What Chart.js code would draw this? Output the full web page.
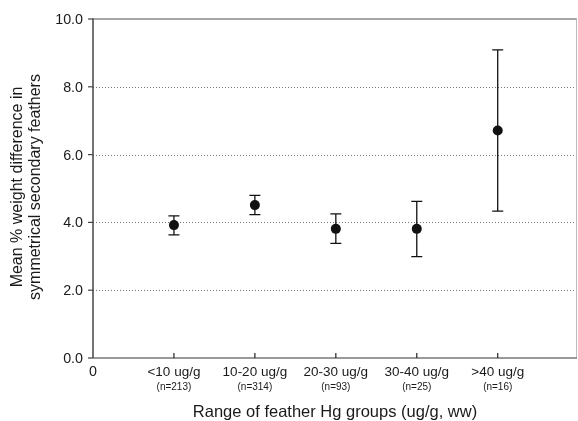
<!DOCTYPE html>
<html><head><meta charset="utf-8">
<script src="https://cdn.jsdelivr.net/npm/chart.js@4"></script>
<style>html,body{margin:0;padding:0;background:#fff}#wrap{width:578px;height:421px}</style>
</head><body><div id="wrap"><canvas id="c" width="578" height="421"></canvas></div>
<script>
const categories = ["<10 ug/g", "10-20 ug/g", "20-30 ug/g", "30-40 ug/g", ">40 ug/g"];
const sampleSizes = ["(n=213)", "(n=314)", "(n=93)", "(n=25)", "(n=16)"];
const groupPositions = [1, 2, 3, 4, 5];
const means = [3.92, 4.51, 3.81, 3.81, 6.71];
const lowerBounds = [3.63, 4.23, 3.38, 2.99, 4.33];
const upperBounds = [4.19, 4.80, 4.25, 4.62, 9.09];
const yTickValues = [0, 2, 4, 6, 8, 10];
const yGridValues = [2, 4, 6, 8];
const xZeroLabel = "0";
const yTitle = ["Mean % weight difference in", "symmetrical secondary feathers"];
const xTitle = "Range of feather Hg groups (ug/g, ww)";

const FONT = "'Liberation Sans', Arial, Helvetica, sans-serif";
const FRAME_RIGHT = 577;

const drawPlugin = {
  id: 'custom',
  beforeDatasetsDraw(chart) {
    const ctx = chart.ctx;
    const xs = chart.scales.x, ys = chart.scales.y;
    const a = chart.chartArea;
    const R = FRAME_RIGHT;
    ctx.save();
    // dotted grid
    ctx.strokeStyle = '#777';
    ctx.lineWidth = 1;
    ctx.setLineDash([1, 2]);
    yGridValues.forEach(v => {
      const y = Math.round(ys.getPixelForValue(v)) + 0.5;
      ctx.beginPath(); ctx.moveTo(a.left, y); ctx.lineTo(R, y); ctx.stroke();
    });
    ctx.setLineDash([]);
    // frame
    ctx.lineWidth = 1.5;
    ctx.strokeStyle = '#888';
    ctx.beginPath(); ctx.moveTo(a.left, a.top); ctx.lineTo(R, a.top); ctx.stroke();
    ctx.strokeStyle = '#bbb'; ctx.lineWidth = 1;
    ctx.beginPath(); ctx.moveTo(R - 0.5, a.top); ctx.lineTo(R - 0.5, a.bottom); ctx.stroke();
    ctx.strokeStyle = '#777'; ctx.lineWidth = 1.5;
    ctx.beginPath(); ctx.moveTo(a.left, a.bottom); ctx.lineTo(R, a.bottom); ctx.stroke();
    ctx.strokeStyle = '#444';
    ctx.beginPath(); ctx.moveTo(a.left, a.top - 0.5); ctx.lineTo(a.left, a.bottom); ctx.stroke();
    // y ticks
    ctx.lineWidth = 1.2;
    yTickValues.forEach(v => {
      const y = ys.getPixelForValue(v);
      ctx.beginPath(); ctx.moveTo(a.left - 5, y); ctx.lineTo(a.left, y); ctx.stroke();
    });
    // x ticks (inward)
    ctx.strokeStyle = '#222';
    groupPositions.forEach(p => {
      const x = xs.getPixelForValue(p);
      ctx.beginPath(); ctx.moveTo(x, a.bottom); ctx.lineTo(x, a.bottom - 5); ctx.stroke();
    });
    // error bars
    ctx.strokeStyle = '#111';
    ctx.lineWidth = 1.3;
    groupPositions.forEach((p, i) => {
      const x = xs.getPixelForValue(p);
      const yl = ys.getPixelForValue(lowerBounds[i]);
      const yu = ys.getPixelForValue(upperBounds[i]);
      ctx.beginPath();
      ctx.moveTo(x, yl); ctx.lineTo(x, yu);
      ctx.moveTo(x - 5.5, yl); ctx.lineTo(x + 5.5, yl);
      ctx.moveTo(x - 5.5, yu); ctx.lineTo(x + 5.5, yu);
      ctx.stroke();
    });
    ctx.restore();
  },
  afterDraw(chart) {
    const ctx = chart.ctx;
    const xs = chart.scales.x, ys = chart.scales.y;
    const a = chart.chartArea;
    ctx.save();
    ctx.fillStyle = '#1a1a1a';
    // y tick labels
    ctx.font = '14.3px ' + FONT;
    ctx.textAlign = 'right'; ctx.textBaseline = 'middle';
    yTickValues.forEach(v => {
      ctx.fillText(v.toFixed(1), a.left - 10, ys.getPixelForValue(v) + 1);
    });
    // x labels
    ctx.textAlign = 'center';
    ctx.font = '14.3px ' + FONT;
    ctx.fillText(xZeroLabel, xs.getPixelForValue(0), a.bottom + 14);
    ctx.font = '13.5px ' + FONT;
    groupPositions.forEach((p, i) => {
      ctx.fillText(categories[i], xs.getPixelForValue(p), a.bottom + 14);
    });
    ctx.font = '10px ' + FONT;
    groupPositions.forEach((p, i) => {
      ctx.fillText(sampleSizes[i], xs.getPixelForValue(p), a.bottom + 29);
    });
    // x title
    ctx.font = '16.5px ' + FONT;
    ctx.fillText(xTitle, (a.left + FRAME_RIGHT) / 2, 412);
    // y title
    ctx.translate(0, 187);
    ctx.rotate(-Math.PI / 2);
    ctx.font = '16px ' + FONT;
    ctx.fillText(yTitle[0], 0, 18);
    ctx.fillText(yTitle[1], 0, 36);
    ctx.restore();
  }
};

new Chart(document.getElementById('c'), {
  type: 'scatter',
  data: {
    datasets: [{
      data: groupPositions.map((p, i) => ({ x: p, y: means[i] })),
      backgroundColor: '#111',
      borderColor: '#111',
      pointRadius: 5,
      pointHoverRadius: 5,
      borderWidth: 0
    }]
  },
  options: {
    responsive: false,
    animation: false,
    devicePixelRatio: 1,
    layout: { padding: { top: 19, right: 1, left: 0, bottom: 0 } },
    plugins: { legend: { display: false }, tooltip: { enabled: false } },
    scales: {
      x: {
        type: 'linear', min: 0, max: 5.93,
        ticks: { display: false },
        grid: { display: false },
        border: { display: false },
        afterFit: s => { s.height = 63; }
      },
      y: {
        type: 'linear', min: 0, max: 10,
        ticks: { display: false, stepSize: 2 },
        grid: { display: false },
        border: { display: false },
        afterFit: s => { s.width = 93; }
      }
    }
  },
  plugins: [drawPlugin]
});
</script>
</body></html>
